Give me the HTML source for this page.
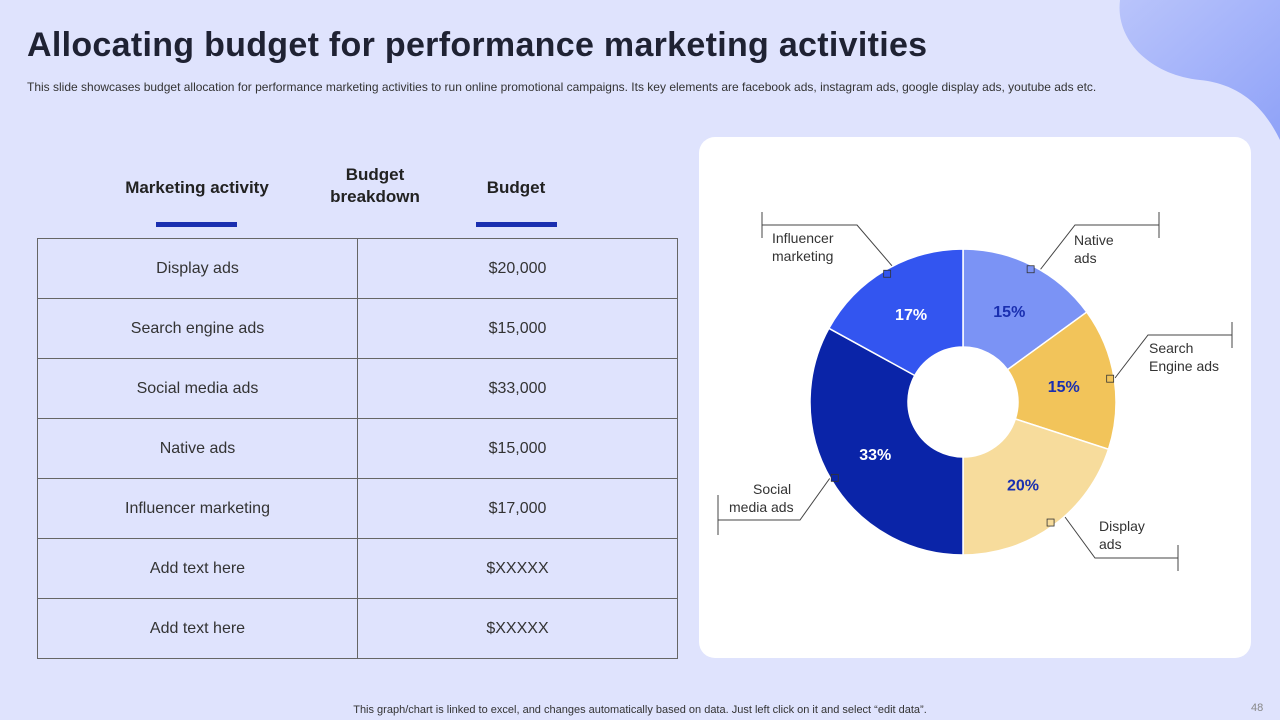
<!DOCTYPE html>
<html><head><meta charset="utf-8"><style>
body{margin:0;width:1280px;height:720px;overflow:hidden;background:#dfe3fd;font-family:"Liberation Sans",sans-serif;position:relative}
.abs{position:absolute}
h1{position:absolute;left:27px;top:26px;margin:0;font-size:34px;font-weight:bold;color:#1f2233;letter-spacing:0.3px}
.sub{left:27px;top:80px;font-size:12px;color:#333;letter-spacing:0}
.hd{font-size:17px;font-weight:bold;color:#222;text-align:center}
table{position:absolute;left:37px;top:238px;border-collapse:collapse;table-layout:fixed;width:641px}
td{height:59px;padding:0;border:1.5px solid #666;text-align:center;font-size:16px;color:#333}
.card{left:699px;top:137px;width:552px;height:521px;background:#fff;border-radius:16px}
</style></head><body>
<svg class="abs" style="left:0;top:0" width="1280" height="720">
<defs><linearGradient id="g" x1="0" y1="0" x2="1" y2="1"><stop offset="0" stop-color="#b9c4fb"/><stop offset="1" stop-color="#8fa2f8"/></linearGradient></defs>
<path d="M1120,0 C1115,40 1150,75 1200,80 C1250,85 1270,120 1280,140 L1280,0 Z" fill="url(#g)"/>
</svg>
<h1>Allocating budget for performance marketing activities</h1>
<div class="abs sub">This slide showcases budget allocation for performance marketing activities to run online promotional campaigns. Its key elements are facebook ads, instagram ads, google display ads, youtube ads etc.</div>
<div class="abs hd" style="left:97px;top:178px;width:200px">Marketing activity</div>
<div class="abs hd" style="left:298px;top:164px;width:154px;line-height:22px">Budget<br>breakdown</div>
<div class="abs hd" style="left:436px;top:178px;width:160px">Budget</div>
<div class="abs" style="left:156px;top:222px;width:81px;height:5px;background:#1a2fb0"></div>
<div class="abs" style="left:476px;top:222px;width:81px;height:5px;background:#1a2fb0"></div>
<table>
<tr><td>Display ads</td><td>$20,000</td></tr>
<tr><td>Search engine ads</td><td>$15,000</td></tr>
<tr><td>Social media ads</td><td>$33,000</td></tr>
<tr><td>Native ads</td><td>$15,000</td></tr>
<tr><td>Influencer marketing</td><td>$17,000</td></tr>
<tr><td>Add text here</td><td>$XXXXX</td></tr>
<tr><td>Add text here</td><td>$XXXXX</td></tr>
</table>
<div class="abs card"></div>
<svg id="ch" class="abs" style="left:0;top:0" width="1280" height="720">
<g fill="none" stroke="#444" stroke-width="1">
<path d="M762,212 V238 M762,225 H857 L893,267"/>
<path d="M1159,212 V238 M1159,225 H1075 L1040,270"/>
<path d="M1232,322 V348 M1232,335 H1148 L1115,378"/>
<path d="M1178,545 V571 M1178,558 H1095 L1065,517"/>
<path d="M718,495 V535 M718,520 H800 L830,478"/>
</g>
<g font-size="14" fill="#333" font-family="Liberation Sans, sans-serif">
<text x="772" y="243">Influencer</text>
<text x="772" y="261">marketing</text>
<text x="1074" y="245">Native</text>
<text x="1074" y="263">ads</text>
<text x="1149" y="353">Search</text>
<text x="1149" y="371">Engine ads</text>
<text x="1099" y="531">Display</text>
<text x="1099" y="549">ads</text>
<text x="753" y="494">Social</text>
<text x="729" y="512">media ads</text>
</g>
</svg>
<div class="abs" style="left:0;top:704px;width:1280px;text-align:center;font-size:11px;color:#333">This graph/chart is linked to excel, and changes automatically based on data. Just left click on it and select “edit data”.</div>
<div class="abs" style="left:1251px;top:702px;font-size:11px;color:#888">48</div>
<script>
const categories=["Native ads","Search Engine ads","Display ads","Social media ads","Influencer marketing"];
const values=[15,15,20,33,17];
const colors=["#7b93f5","#f2c45a","#f7dc9c","#0a24a8","#3355f0"];
const textColors=["#1a2fb0","#1a2fb0","#1a2fb0","#fff","#fff"];
const cx=963,cy=402,R=153,r=55;
const svg=document.getElementById('ch');
const NS="http://www.w3.org/2000/svg";
const total=values.reduce((a,b)=>a+b,0);
function pt(a,rad){return [cx+rad*Math.sin(a),cy-rad*Math.cos(a)];}
let acc=0;
const marks=[];
values.forEach((v,i)=>{
 const a0=acc/total*2*Math.PI; acc+=v; const a1=acc/total*2*Math.PI;
 const lg=(a1-a0)>Math.PI?1:0;
 const [x0,y0]=pt(a0,R),[x1,y1]=pt(a1,R),[x2,y2]=pt(a1,r),[x3,y3]=pt(a0,r);
 const p=document.createElementNS(NS,'path');
 p.setAttribute('d',`M${x0},${y0} A${R},${R} 0 ${lg} 1 ${x1},${y1} L${x2},${y2} A${r},${r} 0 ${lg} 0 ${x3},${y3}Z`);
 p.setAttribute('fill',colors[i]);p.setAttribute('stroke','#fff');p.setAttribute('stroke-width','1.5');
 
 
 svg.appendChild(p);
 const am=(a0+a1)/2;const [tx,ty]=pt(am,102);
 const t=document.createElementNS(NS,'text');
 t.setAttribute('x',tx);t.setAttribute('y',ty+6);t.setAttribute('text-anchor','middle');
 t.setAttribute('font-size','16');t.setAttribute('font-weight','bold');t.setAttribute('fill',textColors[i]);
 t.setAttribute('font-family','Liberation Sans, sans-serif');
 t.textContent=v+'%';
 
 
 marks.push(t);
 const [mx,my]=pt(am,R-4);
 const m=document.createElementNS(NS,'rect');
 m.setAttribute('x',mx-3.5);m.setAttribute('y',my-3.5);m.setAttribute('width',7);m.setAttribute('height',7);
 m.setAttribute('fill',colors[i]);m.setAttribute('stroke','#333');m.setAttribute('stroke-width','0.8');
 
 
 marks.push(m);
});
marks.forEach(e=>svg.appendChild(e));
</script>
</body></html>
